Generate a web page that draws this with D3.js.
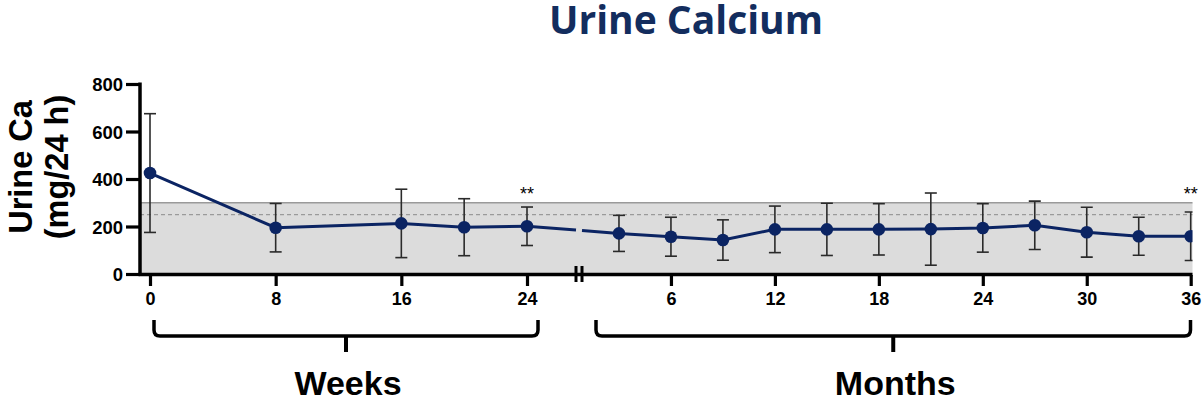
<!DOCTYPE html>
<html>
<head>
<meta charset="utf-8">
<script src="https://cdn.jsdelivr.net/npm/d3@7"></script>
<style>
  html, body { margin: 0; padding: 0; background: #fff; }
  svg { display: block; }
  text { font-family: "Liberation Sans", Arial, sans-serif; }
</style>
</head>
<body>
<svg id="chart" width="1203" height="404"></svg>
<script>
// Urine calcium over time: weekly visits, then monthly visits (mean ± SD)
const weekTimes = [0, 8, 16, 20, 24];
const weekMeans = [425, 195, 213, 197, 201];
const weekSD    = [250, 102, 144, 120, 81];

const monthTimes = [3, 6, 9, 12, 15, 18, 21, 24, 27, 30, 33, 36];
const monthMeans = [171, 157, 143, 188, 188, 188, 189, 194, 205, 176, 159, 159];
const monthSD    = [76, 82, 85, 98, 110, 108, 152, 102, 102, 105, 80, 102];

const weekTicks  = [0, 8, 16, 24];
const monthTicks = [6, 12, 18, 24, 30, 36];
const yTicks     = [0, 200, 400, 600, 800];

// Reference range: upper limit band and dashed line
const refUpper = 300;
const refLine  = 250;

// Significance markers (time points flagged with **)
const sigWeeks  = [24];
const sigMonths = [36];

const navy = "#0b2463";
const svg = d3.select("#chart");

const plotLeft = 140, plotRight = 1192.5;
const y  = d3.scaleLinear().domain([0, 800]).range([274, 84]);
const xW = d3.scaleLinear().domain([0, 24]).range([150, 527]);
const xM = d3.scaleLinear().domain([0, 36]).range([567, 1190.7]);
const breakX = 579;

// Title
svg.append("text")
  .attr("x", 686).attr("y", 34)
  .attr("text-anchor", "middle")
  .style("font-family", "'Open Sans', Lato, sans-serif")
  .style("font-weight", 700).style("font-size", "39px")
  .attr("fill", "#132d5e")
  .text("Urine Calcium");

// Y axis title (two lines, rotated)
const yt = svg.append("text")
  .attr("transform", "translate(32,167) rotate(-90)")
  .attr("text-anchor", "middle")
  .style("font-weight", 700).style("font-size", "32.5px")
  .attr("fill", "#000");
yt.append("tspan").attr("x", 0).attr("dy", 0).text("Urine Ca");
yt.append("tspan").attr("x", 0).attr("dy", 36).text("(mg/24 h)");

// Reference band and dashed line
const defs = svg.append("defs");
defs.append("clipPath").attr("id", "plotClip")
  .append("rect").attr("x", 0).attr("y", 0).attr("width", plotRight).attr("height", 404);

svg.append("rect")
  .attr("x", plotLeft).attr("y", y(refUpper))
  .attr("width", plotRight - plotLeft).attr("height", y(0) - y(refUpper))
  .attr("fill", "#dcdcdc");
svg.append("line")
  .attr("x1", plotLeft).attr("x2", plotRight)
  .attr("y1", y(refUpper)).attr("y2", y(refUpper))
  .attr("stroke", "#9a9a9a").attr("stroke-width", 1.5);
svg.append("line")
  .attr("x1", plotLeft).attr("x2", plotRight)
  .attr("y1", y(refLine)).attr("y2", y(refLine))
  .attr("stroke", "#9a9a9a").attr("stroke-width", 1.2)
  .attr("stroke-dasharray", "4,3");

// Y axis
const yAxis = d3.axisLeft(y).tickValues(yTicks).tickSize(14).tickPadding(3).tickFormat(d3.format("d"));
const gy = svg.append("g").attr("transform", `translate(${plotLeft},0)`).call(yAxis);
gy.select(".domain").remove();
gy.append("line").attr("x1", 0).attr("x2", 0).attr("y1", y(800) - 1.5).attr("y2", 276)
  .attr("stroke", "#000").attr("stroke-width", 3.5);
gy.selectAll(".tick line").attr("stroke", "#000").attr("stroke-width", 3.2);
gy.selectAll(".tick text")
  .style("font-weight", 700).style("font-size", "18.5px").attr("fill", "#000")
  .attr("dy", "0.36em");

// X axis baseline spanning both segments
svg.append("line")
  .attr("x1", plotLeft - 1.5).attr("x2", plotRight)
  .attr("y1", 274.5).attr("y2", 274.5)
  .attr("stroke", "#000").attr("stroke-width", 3.3);

function styleX(g) {
  g.select(".domain").remove();
  g.selectAll(".tick line").attr("stroke", "#000").attr("stroke-width", 3.2);
  g.selectAll(".tick text")
    .style("font-weight", 700).style("font-size", "18px").attr("fill", "#000");
}
const gxW = svg.append("g").attr("transform", "translate(0,275)")
  .call(d3.axisBottom(xW).tickValues(weekTicks).tickSize(11).tickPadding(6).tickFormat(d3.format("d")));
styleX(gxW);
const gxM = svg.append("g").attr("transform", "translate(0,275)")
  .call(d3.axisBottom(xM).tickValues(monthTicks).tickSize(11).tickPadding(6).tickFormat(d3.format("d")));
styleX(gxM);

// Axis break marks
[-3, 3].forEach(o => {
  svg.append("line")
    .attr("x1", breakX + o).attr("x2", breakX + o)
    .attr("y1", 266).attr("y2", 282)
    .attr("stroke", "#000").attr("stroke-width", 3);
});

// Data layer
const weekPts  = weekTimes.map((t, i) => ({ x: xW(t), m: weekMeans[i], sd: weekSD[i] }));
const monthPts = monthTimes.map((t, i) => ({ x: xM(t), m: monthMeans[i], sd: monthSD[i] }));
const allPts = weekPts.concat(monthPts);

const data = svg.append("g").attr("clip-path", "url(#plotClip)");

// Error bars
const eb = data.selectAll(".eb").data(allPts).join("g").attr("class", "eb")
  .attr("stroke", "#2a2a2a").attr("stroke-width", 1.6);
eb.append("line").attr("x1", d => d.x).attr("x2", d => d.x)
  .attr("y1", d => y(d.m + d.sd)).attr("y2", d => y(d.m - d.sd));
eb.append("line").attr("x1", d => d.x - 6).attr("x2", d => d.x + 6)
  .attr("y1", d => y(d.m + d.sd)).attr("y2", d => y(d.m + d.sd));
eb.append("line").attr("x1", d => d.x - 6).attr("x2", d => d.x + 6)
  .attr("y1", d => y(d.m - d.sd)).attr("y2", d => y(d.m - d.sd));

// Connecting lines
const line = d3.line().x(d => d.x).y(d => y(d.m));
data.append("path").datum(weekPts).attr("d", line)
  .attr("fill", "none").attr("stroke", navy).attr("stroke-width", 3);
data.append("path").datum(monthPts).attr("d", line)
  .attr("fill", "none").attr("stroke", navy).attr("stroke-width", 3);

// Bridge across the axis break, interrupted at the break
const a = weekPts[weekPts.length - 1], b = monthPts[0];
const interp = d3.interpolateNumber(a.m, b.m);
const gap = 3;
const tAt = px => (px - a.x) / (b.x - a.x);
[[a.x, breakX - gap], [breakX + gap, b.x]].forEach(([x0, x1]) => {
  data.append("line")
    .attr("x1", x0).attr("y1", y(interp(tAt(x0))))
    .attr("x2", x1).attr("y2", y(interp(tAt(x1))))
    .attr("stroke", navy).attr("stroke-width", 3);
});

// Markers
data.selectAll(".pt").data(allPts).join("circle").attr("class", "pt")
  .attr("cx", d => d.x).attr("cy", d => y(d.m)).attr("r", 6.3)
  .attr("fill", navy);

// Significance asterisks
const sigPts = sigWeeks.map(t => xW(t)).concat(sigMonths.map(t => xM(t)));
svg.selectAll(".sig").data(sigPts).join("text").attr("class", "sig")
  .attr("x", d => d).attr("y", 200)
  .attr("text-anchor", "middle")
  .style("font-size", "18px").attr("fill", "#000")
  .text("**");

// Brackets grouping the time segments
function bracket(x1, x2, label) {
  const top = 320, h = 336, r = 6, stem = 352, cx = (x1 + x2) / 2;
  const p = `M${x1},${top} L${x1},${h - r} Q${x1},${h} ${x1 + r},${h} L${x2 - r},${h} Q${x2},${h} ${x2},${h - r} L${x2},${top}`;
  svg.append("path").attr("d", p).attr("fill", "none")
    .attr("stroke", "#000").attr("stroke-width", 3.5);
  svg.append("line").attr("x1", cx).attr("x2", cx).attr("y1", h).attr("y2", stem)
    .attr("stroke", "#000").attr("stroke-width", 4);
  svg.append("text").attr("x", cx + 2).attr("y", 395)
    .attr("text-anchor", "middle")
    .style("font-weight", 700).style("font-size", "34px").attr("fill", "#000")
    .text(label);
}
bracket(154, 538, "Weeks");
bracket(596, 1190.5, "Months");
</script>
</body>
</html>
